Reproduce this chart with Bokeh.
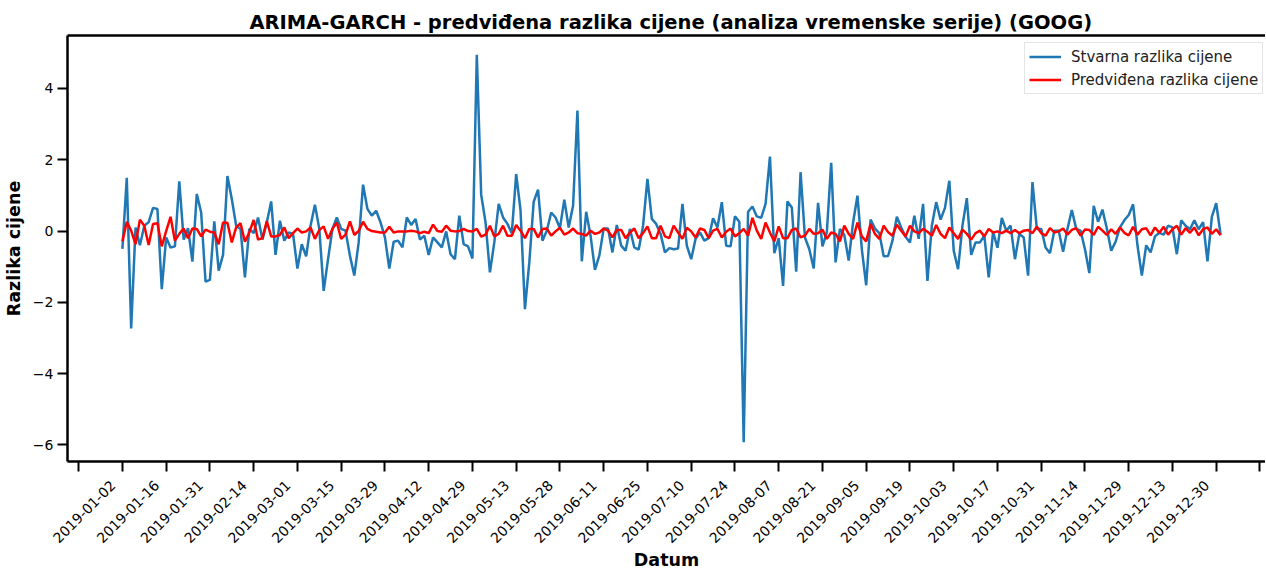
import numpy as np
from bokeh.plotting import figure
from bokeh.models import FixedTicker, LinearAxis, Range1d, Legend, LegendItem
from bokeh.embed import file_html
from bokeh.resources import INLINE

tick_dates = ["2019-01-02", "2019-01-16", "2019-01-31", "2019-02-14", "2019-03-01",
              "2019-03-15", "2019-03-29", "2019-04-12", "2019-04-29", "2019-05-13",
              "2019-05-28", "2019-06-11", "2019-06-25", "2019-07-10", "2019-07-24",
              "2019-08-07", "2019-08-21", "2019-09-05", "2019-09-19", "2019-10-03",
              "2019-10-17", "2019-10-31", "2019-11-14", "2019-11-29", "2019-12-13",
              "2019-12-30"]

actual = [
    -0.5, 1.49, -2.73, 0.1, -0.4, 0.15, 0.25, 0.65, 0.62, -1.63,
    -0.18, -0.46, -0.43, 1.39, -0.24, 0.08, -0.86, 1.04, 0.52, -1.42,
    -1.37, 0.27, -1.11, -0.67, 1.54, 0.9, 0.15, 0.06, -1.3, 0.06,
    -0.06, 0.38, -0.24, 0.24, 0.83, -0.67, 0.29, -0.27, -0.04, -0.08,
    -1.05, -0.37, -0.71, 0.15, 0.74, 0.06, -1.68, -0.79, 0.06, 0.38,
    0.06, 0.01, -0.69, -1.25, -0.32, 1.3, 0.62, 0.43, 0.57, 0.24,
    -0.18, -1.05, -0.3, -0.27, -0.46, 0.38, 0.17, 0.34, -0.24, -0.13,
    -0.67, -0.18, -0.32, -0.46, -0.01, -0.65, -0.79, 0.43, -0.37, -0.43,
    -0.77, 4.94, 1.02, 0.24, -1.16, -0.32, 0.76, 0.38, 0.2, -0.06,
    1.6, 0.57, -2.19, -0.88, 0.82, 1.16, -0.27, 0.01, 0.52, 0.38,
    0.08, 0.88, 0.1, 0.71, 3.38, -0.85, 0.54, -0.13, -1.09, -0.69,
    0.07, 0.07, -0.6, 0.17, -0.41, -0.55, 0.06, -0.46, -0.52, 0.15,
    1.46, 0.34, 0.2, -0.08, -0.6, -0.48, -0.51, -0.49, 0.76, -0.41,
    -0.79, -0.22, -0.04, -0.27, -0.2, 0.36, 0.1, 0.81, -0.41, -0.43,
    0.41, 0.26, -5.92, 0.54, 0.69, 0.41, 0.37, 0.76, 2.09, -0.62,
    -0.2, -1.54, 0.83, 0.66, -1.14, 1.65, -0.18, -0.51, -1.05, 0.79,
    -0.43, -0.04, 1.91, -0.88, 0.06, -0.11, -0.83, 0.24, 0.99, -0.51,
    -1.52, 0.32, 0.07, -0.06, -0.71, -0.7, -0.27, 0.4, 0.1, -0.16,
    -0.32, 0.43, -0.22, 0.76, -1.4, 0.15, 0.81, 0.32, 0.65, 1.41,
    -0.55, -1.07, 0.15, 0.92, -0.67, -0.32, -0.32, -0.13, -1.3, -0.02,
    -0.47, 0.37, 0.01, 0.15, -0.79, -0.08, -0.18, -1.25, 1.37, 0.06,
    0.06, -0.46, -0.62, 0.01, 0.01, -0.58, 0.06, 0.59, 0.06, 0.01,
    -0.51, -1.18, 0.71, 0.26, 0.6, 0.07, -0.55, -0.3, 0.1, 0.3,
    0.45, 0.75, -0.4, -1.25, -0.4, -0.6, -0.15, -0.05, -0.1, 0.15,
    0.1, -0.65, 0.3, 0.15, 0.05, 0.3, 0.05, 0.25, -0.85, 0.4,
    0.78, -0.1]

predicted = [
    -0.29, 0.26, 0.01, -0.37, 0.32, 0.15, -0.39, 0.2, 0.22, -0.43,
    0.0, 0.4, -0.27, -0.08, 0.07, -0.2, 0.07, 0.06, -0.15, 0.04,
    -0.02, -0.04, -0.37, 0.24, 0.23, -0.32, 0.1, 0.22, -0.3, -0.04,
    0.31, -0.24, -0.2, 0.28, -0.15, -0.15, -0.11, 0.1, -0.2, -0.06,
    0.07, -0.04, -0.01, 0.1, -0.22, 0.03, 0.13, -0.22, 0.06, 0.24,
    -0.22, -0.1, 0.27, -0.11, 0.0, 0.26, 0.06, 0.0, -0.02, -0.04,
    -0.04, 0.12, -0.04, -0.01, -0.01, -0.01, 0.01, -0.01, -0.06, -0.02,
    -0.06, 0.18, 0.0, -0.02, 0.15, 0.01, -0.01, 0.0, 0.06, 0.0,
    -0.01, 0.06, -0.16, -0.1, 0.15, -0.15, -0.08, 0.15, -0.13, -0.13,
    0.17, 0.01, -0.2, 0.06, 0.06, -0.18, 0.06, 0.07, -0.13, -0.01,
    0.09, -0.1, -0.04, 0.07, -0.06, -0.08, -0.13, 0.01, -0.08, -0.04,
    0.07, 0.01, -0.18, 0.03, 0.03, -0.2, -0.04, 0.07, -0.2, -0.06,
    0.13, -0.2, -0.2, 0.15, -0.15, -0.2, 0.15, -0.04, -0.22, 0.09,
    -0.01, -0.18, 0.07, 0.03, -0.2, 0.01, 0.06, -0.18, -0.02, 0.07,
    -0.15, -0.06, 0.06, -0.13, 0.37, 0.01, -0.22, 0.24, -0.04, -0.29,
    0.13, -0.2, -0.2, 0.03, 0.07, -0.18, -0.13, 0.06, -0.08, -0.06,
    0.04, -0.22, -0.04, -0.08, -0.29, 0.15, -0.08, -0.22, 0.24, -0.15,
    -0.29, 0.2, -0.08, -0.22, 0.15, -0.03, -0.13, 0.18, 0.01, -0.15,
    0.15, -0.01, -0.06, 0.06, -0.02, -0.13, 0.17, -0.08, -0.2, 0.1,
    -0.06, -0.22, 0.04, -0.08, -0.24, -0.06, 0.01, -0.15, 0.06, -0.04,
    -0.01, -0.06, 0.01, -0.06, 0.03, -0.06, 0.01, 0.03, -0.06, 0.12,
    -0.06, -0.13, 0.08, -0.04, -0.01, 0.07, -0.1, 0.03, 0.08, -0.13,
    0.04, 0.03, -0.11, 0.12, 0.01, -0.11, 0.05, -0.08, 0.1, -0.05,
    -0.12, 0.12, -0.1, 0.05, 0.08, -0.12, 0.1, -0.05, 0.12, -0.1,
    0.05, 0.15, -0.1, 0.08, -0.05, 0.1, -0.12, 0.05, 0.1, -0.08,
    0.05, -0.12]

n = len(actual)
x = np.arange(n)

FRAME_W, FRAME_H = 1198, 426

# matplotlib-like 5% margins; the right end of the reference is cropped by the window
x_pad = 0.05 * (n - 1)
x_start = -x_pad
x_full_end = (n - 1) + x_pad
x_end = x_start + (x_full_end - x_start) * (FRAME_W / 1208.0)

all_vals = np.array(actual + predicted)
y_lo, y_hi = all_vals.min(), all_vals.max()
y_pad = 0.05 * (y_hi - y_lo)

FONT = "DejaVu Sans"
NB = "\u00a0"

p = figure(frame_width=FRAME_W, frame_height=FRAME_H,
           x_range=Range1d(x_start, x_end), y_range=Range1d(y_lo - y_pad, y_hi + y_pad),
           output_backend="svg", toolbar_location=None,
           min_border_left=60, min_border_right=0, min_border_top=35, min_border_bottom=0)
p.outline_line_color = None
p.grid.visible = False
p.background_fill_color = "white"
p.border_fill_color = "white"

r1 = p.line(x, actual, line_color="#1f77b4", line_width=2.5)
r2 = p.line(x, predicted, line_color="#ff0000", line_width=2.5)

# title
p.title.text = "ARIMA-GARCH - predviđena razlika cijene (analiza vremenske serije) (GOOG)"
p.title.text_font = FONT
p.title.text_font_size = "19.5px"
p.title.text_font_style = "bold"
p.title.text_color = "black"
p.title.align = "left"
p.title.offset = 182
p.title.standoff = 4

# x axis
xt = list(range(-10, 270, 10))
overrides = {t: "" for t in xt}
for i, d in enumerate(tick_dates):
    overrides[i * 10] = d + NB * 3
xa = p.xaxis[0]
xa.ticker = FixedTicker(ticks=xt)
xa.major_label_overrides = overrides
xa.major_label_orientation = np.pi / 4

ya = p.yaxis[0]
yt = [-6, -4, -2, 0, 2, 4]
ya.ticker = FixedTicker(ticks=yt)
ya.major_label_overrides = {t: (str(t).replace("-", "\u2212")) for t in yt}

for ax in (xa, ya):
    ax.axis_line_width = 2.5
    ax.axis_line_color = "black"
    ax.major_tick_out = 10
    ax.major_tick_in = 0
    ax.major_tick_line_width = 2
    ax.major_tick_line_color = "black"
    ax.minor_tick_out = 0
    ax.minor_tick_in = 0
    ax.major_label_text_font = FONT
    ax.major_label_text_font_size = "14px"
    ax.major_label_text_color = "black"
    ax.axis_label_text_font = FONT
    ax.axis_label_text_font_size = "17.5px"
    ax.axis_label_text_font_style = "bold"
    ax.axis_label_text_color = "black"

xa.major_label_standoff = 2
xa.axis_label = "Datum"
xa.axis_label_standoff = -5
ya.major_label_standoff = 4
ya.axis_label_standoff = 6
ya.axis_label = "Razlika cijene"

# top spine
top = LinearAxis(ticker=FixedTicker(ticks=[]), major_label_text_font_size="0px",
                 major_tick_out=0, major_tick_in=0, minor_tick_out=0, minor_tick_in=0,
                 axis_line_width=2.5, axis_line_color="black")
p.add_layout(top, "above")

legend = Legend(items=[LegendItem(label="Stvarna razlika cijene", renderers=[r1]),
                       LegendItem(label="Predviđena razlika cijene", renderers=[r2])],
                location=(957, 367), margin=0, padding=4, spacing=4,
                glyph_width=32, glyph_height=19, label_height=19, label_standoff=10,
                label_text_font=FONT, label_text_font_size="15px", label_text_color="#222222",
                border_line_color="#cccccc", border_line_width=1,
                background_fill_color="white", background_fill_alpha=0.8)
p.add_layout(legend)

open("out.html", "w").write(file_html(p, INLINE))
